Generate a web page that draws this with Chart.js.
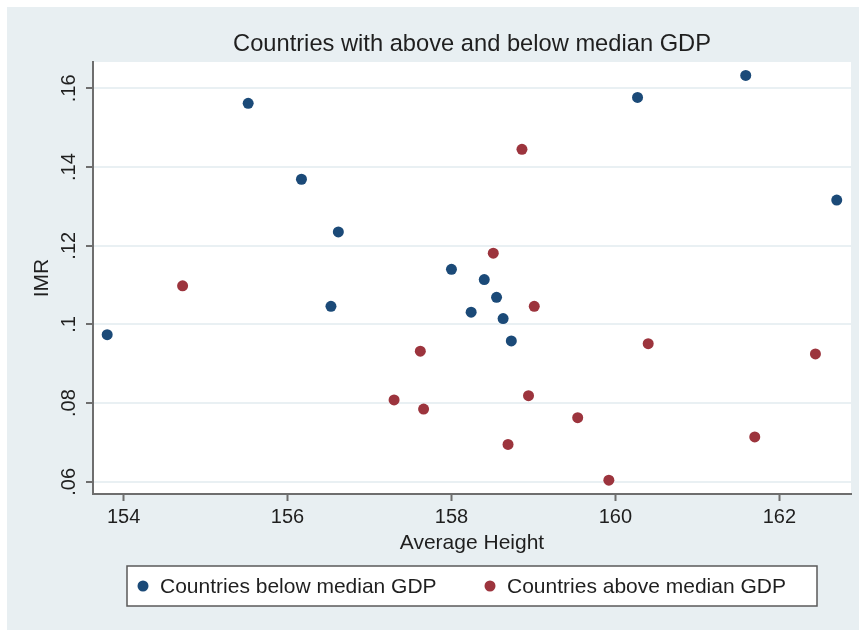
<!DOCTYPE html>
<html>
<head>
<meta charset="utf-8">
<script src="https://cdn.jsdelivr.net/npm/chart.js@4.4.1/dist/chart.umd.min.js"></script>
<style>
    html, body { margin: 0; padding: 0; background: #fff; }
    #wrap { width: 859px; height: 630px; }
</style>
</head>
<body>
<div id="wrap"><canvas id="chart" width="859" height="630"></canvas></div>
<script>
// Chart text
const titleText = "Countries with above and below median GDP";
const xAxisTitle = "Average Height";
const yAxisTitle = "IMR";
const seriesLabels = ["Countries below median GDP", "Countries above median GDP"];

// Countries below median GDP
const belowHeight = [153.80, 155.52, 156.17, 156.62, 156.53, 158.00, 158.40, 158.55, 158.24, 158.63, 158.73, 160.27, 161.59, 162.70];
const belowImr = [0.0974, 0.1562, 0.1369, 0.1235, 0.1046, 0.1140, 0.1114, 0.1069, 0.1031, 0.1015, 0.0958, 0.1577, 0.1633, 0.1316];

// Countries above median GDP
const aboveHeight = [154.72, 158.86, 158.51, 159.01, 157.62, 157.30, 157.66, 158.94, 159.54, 158.69, 159.92, 160.40, 162.44, 161.70];
const aboveImr = [0.1098, 0.1445, 0.1181, 0.1046, 0.0932, 0.0808, 0.0785, 0.0819, 0.0763, 0.0695, 0.0604, 0.0951, 0.0925, 0.0714];

// Axis ticks
const xTicks = [154, 156, 158, 160, 162];
const yTicks = [0.06, 0.08, 0.10, 0.12, 0.14, 0.16];
const yTickLabels = [".06", ".08", ".1", ".12", ".14", ".16"];

const colors = ["#1b4a78", "#9c343d"];
const textColor = "#1f1f1f";
const axisColor = "#6e6e6e";
const fontFamily = "'Liberation Sans', Arial, sans-serif";

function toPoints(xs, ys) {
    return xs.map((x, i) => ({ x: x, y: ys[i] }));
}

// Stata-like panel, white plot region, title and boxed legend
const stataFrame = {
    id: "stataFrame",
    beforeDraw(chart) {
        const ctx = chart.ctx;
        const a = chart.chartArea;
        ctx.save();
        ctx.fillStyle = "#ffffff";
        ctx.fillRect(0, 0, chart.width, chart.height);
        ctx.fillStyle = "#e8eff2";
        ctx.fillRect(7, 7, chart.width - 7, chart.height - 7);
        ctx.fillStyle = "#ffffff";
        ctx.fillRect(a.left, a.top, a.right - a.left, a.bottom - a.top);
        ctx.restore();
    },
    afterDraw(chart) {
        const ctx = chart.ctx;
        const a = chart.chartArea;
        ctx.save();
        // title
        ctx.fillStyle = textColor;
        ctx.font = "23.7px " + fontFamily;
        ctx.textAlign = "center";
        ctx.textBaseline = "middle";
        ctx.fillText(titleText, (a.left + a.right) / 2, 44);

        // legend box
        ctx.fillStyle = "#ffffff";
        ctx.fillRect(127, 566, 690, 40);
        ctx.strokeStyle = "#5a5a5a";
        ctx.lineWidth = 1.5;
        ctx.strokeRect(127, 566, 690, 40);

        const itemX = [143, 490];
        chart.data.datasets.forEach((ds, i) => {
            ctx.fillStyle = ds.backgroundColor;
            ctx.beginPath();
            ctx.arc(itemX[i], 586, 5.5, 0, Math.PI * 2);
            ctx.fill();
            ctx.fillStyle = textColor;
            ctx.font = "21px " + fontFamily;
            ctx.textAlign = "left";
            ctx.textBaseline = "middle";
            ctx.fillText(ds.label, itemX[i] + 17, 587);
        });
        ctx.restore();
    }
};

const ctx = document.getElementById("chart").getContext("2d");
new Chart(ctx, {
    type: "scatter",
    data: {
        datasets: [
            {
                label: seriesLabels[0],
                data: toPoints(belowHeight, belowImr),
                backgroundColor: colors[0],
                borderColor: colors[0],
                borderWidth: 0,
                pointRadius: 5.5
            },
            {
                label: seriesLabels[1],
                data: toPoints(aboveHeight, aboveImr),
                backgroundColor: colors[1],
                borderColor: colors[1],
                borderWidth: 0,
                pointRadius: 5.5
            }
        ]
    },
    options: {
        responsive: false,
        animation: false,
        devicePixelRatio: 1,
        layout: { padding: { top: 62, right: 8, bottom: 74, left: 0 } },
        plugins: {
            legend: { display: false },
            title: { display: false },
            tooltip: { enabled: false }
        },
        scales: {
            x: {
                type: "linear",
                min: 153.627,
                max: 162.874,
                afterBuildTicks(scale) {
                    scale.ticks = xTicks.map(v => ({ value: v }));
                },
                afterFit(scale) { scale.height = 62; },
                grid: {
                    drawOnChartArea: false,
                    drawTicks: true,
                    tickLength: 7,
                    tickColor: axisColor,
                    tickWidth: 2
                },
                border: { display: true, color: axisColor, width: 2 },
                ticks: {
                    color: textColor,
                    font: { family: fontFamily, size: 20 },
                    padding: 4,
                    maxRotation: 0,
                    minRotation: 0,
                    callback: v => String(v)
                },
                title: {
                    display: true,
                    text: xAxisTitle,
                    color: textColor,
                    font: { family: fontFamily, size: 21 },
                    padding: { top: 0, bottom: 0 }
                }
            },
            y: {
                type: "linear",
                min: 0.0569,
                max: 0.1667,
                afterBuildTicks(scale) {
                    scale.ticks = yTicks.map(v => ({ value: v }));
                },
                afterFit(scale) { scale.width = 93; },
                grid: {
                    color: "#e9f0f3",
                    lineWidth: 2,
                    drawTicks: true,
                    tickLength: 7,
                    tickColor: axisColor,
                    tickWidth: 2
                },
                border: { display: true, color: axisColor, width: 2 },
                ticks: {
                    color: textColor,
                    font: { family: fontFamily, size: 20 },
                    minRotation: 90,
                    maxRotation: 90,
                    crossAlign: "center",
                    padding: 3,
                    callback: v => {
                        const i = yTicks.findIndex(t => Math.abs(t - v) < 1e-9);
                        return i >= 0 ? yTickLabels[i] : "";
                    }
                },
                title: {
                    display: true,
                    text: yAxisTitle,
                    color: textColor,
                    font: { family: fontFamily, size: 21 },
                    padding: { top: 30, bottom: 0 }
                }
            }
        }
    },
    plugins: [stataFrame]
});
</script>
</body>
</html>
